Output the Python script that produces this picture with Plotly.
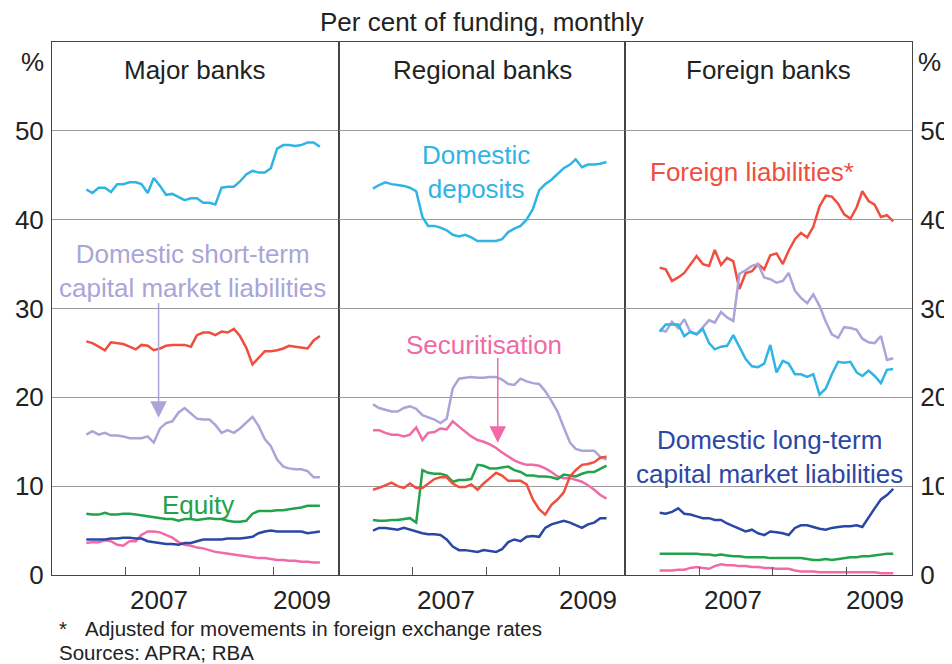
import pandas as pd
import plotly.graph_objs as go

# monthly observations, Jun 2006 - Aug 2009
months = pd.date_range("2006-06-01", periods=39, freq="MS") + pd.DateOffset(days=19)
months = [d.strftime("%Y-%m-%d") for d in months]

panels = ["Major banks", "Regional banks", "Foreign banks"]
year_labels = ["2007", "2009"]

# Major banks (per cent of funding)
dep_major = [43.4, 43.0, 43.6, 43.6, 43.1, 44.0, 44.0, 44.2, 44.2, 44.0, 43.0, 44.7, 43.8, 42.8, 42.9, 42.5, 42.2, 42.4, 42.4, 41.9,
             41.9, 41.7, 43.6, 43.7, 43.7, 44.3, 45.1, 45.5, 45.3, 45.3, 45.8, 48.0, 48.4, 48.4, 48.3, 48.4, 48.7, 48.7, 48.2]
for_major = [26.3, 26.1, 25.7, 25.3, 26.2, 26.1, 26.0, 25.7, 25.4, 25.9, 25.8, 25.3, 25.5, 25.8, 25.9, 25.9, 25.9, 25.7, 27.0, 27.3,
             27.3, 27.0, 27.4, 27.3, 27.7, 26.9, 25.6, 23.7, 24.5, 25.2, 25.2, 25.3, 25.5, 25.8, 25.7, 25.6, 25.5, 26.4, 26.9]
st_major = [15.8, 16.2, 15.8, 16.0, 15.7, 15.7, 15.6, 15.4, 15.4, 15.4, 15.6, 14.9, 16.5, 17.1, 17.3, 18.3, 18.8, 18.2, 17.6, 17.5,
            17.5, 16.9, 16.0, 16.3, 16.0, 16.5, 17.2, 17.8, 16.8, 15.3, 14.5, 13.0, 12.2, 12.0, 11.9, 11.9, 11.7, 11.0, 11.0]
eq_major = [6.9, 6.8, 6.8, 7.0, 6.8, 6.8, 6.9, 6.9, 6.8, 6.7, 6.6, 6.5, 6.4, 6.3, 6.3, 6.1, 6.3, 6.3, 6.2, 6.3,
            6.4, 6.3, 6.3, 6.1, 6.0, 6.0, 6.1, 6.9, 7.2, 7.2, 7.2, 7.3, 7.3, 7.4, 7.5, 7.6, 7.8, 7.8, 7.8]
lt_major = [4.0, 4.0, 4.0, 4.0, 4.1, 4.1, 4.2, 4.2, 4.1, 4.1, 3.8, 3.7, 3.6, 3.5, 3.5, 3.4, 3.6, 3.6, 3.8, 4.0,
            4.0, 4.0, 4.0, 4.1, 4.1, 4.1, 4.2, 4.3, 4.7, 4.9, 5.0, 4.9, 4.9, 4.9, 4.9, 4.9, 4.7, 4.8, 4.9]
sec_major = [3.6, 3.7, 3.7, 3.9, 3.8, 3.4, 3.3, 3.8, 3.8, 4.5, 4.9, 4.9, 4.8, 4.5, 4.2, 3.7, 3.4, 3.3, 3.1, 3.0,
             2.8, 2.6, 2.5, 2.4, 2.3, 2.2, 2.1, 2.0, 1.9, 1.9, 1.8, 1.7, 1.7, 1.6, 1.6, 1.5, 1.5, 1.4, 1.4]

# Regional banks
dep_reg = [43.5, 43.9, 44.2, 44.0, 43.9, 43.8, 43.6, 43.2, 40.3, 39.3, 39.3, 39.1, 38.8, 38.3, 38.1, 38.3, 38.0, 37.6, 37.6, 37.6,
           37.6, 37.8, 38.6, 39.0, 39.3, 40.0, 41.2, 43.3, 44.0, 44.5, 45.1, 45.8, 46.2, 46.8, 45.9, 46.2, 46.2, 46.3, 46.5]
st_reg = [19.2, 18.8, 18.6, 18.4, 18.4, 18.8, 19.0, 18.7, 18.0, 17.8, 17.5, 17.1, 17.6, 21.0, 22.1, 22.2, 22.3, 22.2, 22.2, 22.3,
          22.3, 22.0, 21.5, 21.4, 22.1, 21.8, 21.6, 21.5, 20.7, 19.6, 18.4, 16.6, 14.9, 14.2, 14.0, 14.0, 14.0, 13.3, 13.0]
sec_reg = [16.3, 16.3, 16.0, 15.8, 15.8, 15.6, 15.8, 16.6, 15.2, 16.0, 16.1, 16.5, 16.4, 17.3, 16.7, 16.1, 15.6, 15.2, 15.0, 14.7,
           14.3, 13.8, 13.3, 12.9, 12.6, 12.4, 12.4, 12.3, 12.0, 11.6, 11.1, 10.9, 10.9, 10.7, 10.5, 10.1, 9.6, 9.0, 8.6]
eq_reg = [6.2, 6.1, 6.1, 6.2, 6.2, 6.3, 6.4, 5.9, 11.8, 11.5, 11.4, 11.4, 11.2, 10.5, 10.7, 10.7, 10.8, 12.4, 12.3, 12.0,
          12.0, 12.1, 12.2, 11.8, 11.6, 11.2, 11.2, 11.1, 11.1, 11.0, 10.8, 11.3, 11.2, 11.1, 11.4, 11.6, 11.6, 11.9, 12.3]
for_reg = [9.6, 9.8, 10.1, 10.4, 10.0, 9.8, 10.3, 9.8, 9.8, 10.3, 10.8, 11.0, 11.0, 10.3, 9.9, 9.9, 10.2, 9.6, 10.3, 10.9,
           11.5, 11.2, 10.6, 10.6, 10.6, 10.2, 8.5, 7.4, 6.8, 7.9, 8.5, 9.3, 11.1, 11.8, 12.4, 12.5, 12.7, 13.2, 13.3]
lt_reg = [5.0, 5.3, 5.3, 5.2, 5.1, 5.3, 5.1, 4.9, 4.7, 4.6, 4.6, 4.5, 4.0, 3.2, 2.8, 2.8, 2.7, 2.6, 2.8, 2.7,
          2.6, 2.9, 3.7, 4.0, 3.8, 4.3, 4.4, 4.3, 5.3, 5.7, 5.9, 6.1, 5.9, 5.6, 5.3, 5.7, 5.9, 6.4, 6.4]

# Foreign banks
for_for = [34.6, 34.4, 33.1, 33.5, 34.0, 34.9, 35.9, 35.0, 34.8, 36.6, 34.9, 35.7, 35.3, 32.2, 34.0, 34.2, 35.0, 34.4, 36.0, 36.2,
           35.0, 36.5, 37.8, 38.5, 38.0, 39.2, 41.5, 42.7, 42.6, 41.8, 40.6, 40.1, 41.4, 43.2, 42.1, 41.7, 40.3, 40.5, 39.8]
st_for = [27.6, 27.4, 28.5, 27.8, 28.8, 27.3, 27.1, 27.9, 28.7, 28.4, 29.6, 29.0, 28.6, 33.9, 34.3, 34.8, 35.0, 33.5, 33.3, 32.9,
          33.1, 34.0, 32.0, 31.2, 30.6, 31.6, 30.3, 28.5, 27.1, 26.7, 27.9, 27.8, 27.6, 26.6, 26.2, 26.1, 26.9, 24.2, 24.4]
dep_for = [27.4, 28.2, 28.2, 28.2, 26.9, 27.4, 27.1, 27.7, 26.1, 25.4, 25.7, 25.8, 27.0, 25.6, 24.3, 23.5, 23.4, 23.8, 25.9, 22.8,
           24.1, 23.8, 22.6, 22.6, 22.3, 22.6, 20.3, 21.0, 22.6, 24.0, 23.9, 24.0, 22.8, 22.4, 23.0, 22.4, 21.6, 23.1, 23.2]
lt_for = [7.0, 6.9, 7.1, 7.5, 6.9, 6.8, 6.6, 6.4, 6.4, 6.2, 6.2, 5.8, 5.5, 5.2, 4.9, 5.1, 4.7, 4.5, 4.9, 4.8,
          4.7, 4.5, 5.3, 5.6, 5.6, 5.4, 5.2, 5.1, 5.3, 5.4, 5.5, 5.5, 5.6, 5.4, 6.5, 7.5, 8.5, 9.0, 9.7]
eq_for = [2.4, 2.4, 2.4, 2.4, 2.4, 2.4, 2.4, 2.3, 2.3, 2.2, 2.3, 2.2, 2.1, 2.1, 2.0, 2.0, 2.0, 2.0, 1.9, 1.9,
          1.9, 1.9, 1.9, 1.9, 1.8, 1.7, 1.7, 1.8, 1.7, 1.8, 1.9, 2.0, 2.0, 2.1, 2.1, 2.2, 2.3, 2.4, 2.4]
sec_for = [0.5, 0.5, 0.5, 0.6, 0.6, 0.8, 0.9, 0.8, 0.7, 1.0, 1.2, 1.1, 1.1, 1.0, 1.0, 0.9, 0.9, 0.8, 0.8, 0.7,
           0.7, 0.7, 0.5, 0.4, 0.4, 0.4, 0.3, 0.3, 0.3, 0.3, 0.3, 0.3, 0.3, 0.3, 0.3, 0.3, 0.2, 0.2, 0.2]

c_dep = "#2fb4e6"
c_for = "#f04e3e"
c_st = "#a9a5d8"
c_sec = "#f06aa6"
c_eq = "#22a24a"
c_lt = "#2b47a6"

FONT = "Arial, Liberation Sans, sans-serif"
TXT = 26
NOTE = 20.5

series = [
    ("x", "y", [(dep_major, c_dep), (for_major, c_for), (st_major, c_st),
                (eq_major, c_eq), (sec_major, c_sec), (lt_major, c_lt)]),
    ("x2", "y2", [(dep_reg, c_dep), (st_reg, c_st), (sec_reg, c_sec),
                  (eq_reg, c_eq), (for_reg, c_for), (lt_reg, c_lt)]),
    ("x3", "y3", [(for_for, c_for), (st_for, c_st), (dep_for, c_dep),
                  (lt_for, c_lt), (eq_for, c_eq), (sec_for, c_sec)]),
]

fig = go.Figure()
for xa, ya, lines in series:
    for vals, col in lines:
        fig.add_trace(go.Scatter(x=months, y=vals, xaxis=xa, yaxis=ya, mode="lines",
                                 line=dict(color=col, width=2.5), showlegend=False, hoverinfo="skip"))

xax = dict(type="date", range=["2006-01-01", "2009-11-21"], automargin=False,
           tickvals=["2007-01-01", "2008-01-01", "2009-01-01"], ticks="inside", ticklen=8,
           tickcolor="#555", tickwidth=1, showticklabels=False, showgrid=False, zeroline=False,
           showline=True, linecolor="#444", linewidth=1, mirror=True)
yax = dict(range=[0, 60], tickvals=[0, 10, 20, 30, 40, 50], showgrid=True, gridcolor="#9a9a9a",
           gridwidth=1, zeroline=False, showline=True, linecolor="#444", linewidth=1, mirror=True,
           automargin=False, ticks="", ticklabelstandoff=2,
           tickfont=dict(family=FONT, size=TXT, color="#222"))

# page body adds an 8px offset, so the figure is sized to fit inside the window
fig.update_layout(
    width=944, height=656,
    margin=dict(l=44, r=40, t=34, b=89, autoexpand=False),
    paper_bgcolor="white", plot_bgcolor="white",
    font=dict(family=FONT, size=TXT, color="#222"),
    xaxis=dict(xax, domain=[0, 1 / 3], anchor="y"),
    xaxis2=dict(xax, domain=[1 / 3, 2 / 3], anchor="y2"),
    xaxis3=dict(xax, domain=[2 / 3, 1], anchor="y3"),
    yaxis=dict(yax, anchor="x", side="left"),
    yaxis2=dict(yax, anchor="x2", showticklabels=False),
    yaxis3=dict(yax, anchor="x3", side="right"),
)

ann = []
# title, unit labels, panel headings
ann.append(dict(text="Per cent of funding, monthly", xref="paper", yref="paper", x=0.5, y=1.0375,
                xanchor="center", yanchor="middle", showarrow=False))
for xp in [-0.023, 1.0198]:
    ann.append(dict(text="%", xref="paper", yref="paper", x=xp, y=0.962,
                    xanchor="center", yanchor="middle", showarrow=False))
for i, name in enumerate(panels):
    ann.append(dict(text=name, xref="paper", yref="paper", x=(2 * i + 1) / 6, y=0.948,
                    xanchor="center", yanchor="middle", showarrow=False))

# year labels under each panel
for xa in ["x", "x2", "x3"]:
    for lab, xd in zip(year_labels, ["2007-06-17", "2009-05-22"]):
        ann.append(dict(text=lab, xref=xa, yref="paper", x=xd, y=-0.047,
                        xanchor="center", yanchor="middle", showarrow=False))

# series labels
ann.append(dict(text="Domestic short-term<br>capital market liabilities", xref="x", yref="y",
                x="2007-11-28", y=34.2, showarrow=False, font=dict(color=c_st)))
ann.append(dict(text="", xref="x", yref="y", x="2007-06-13", y=17.7, axref="x", ayref="y",
                ax="2007-06-13", ay=30.8, showarrow=True, arrowhead=2, arrowsize=2.2,
                arrowwidth=1.5, arrowcolor=c_st, standoff=0))
ann.append(dict(text="Equity", xref="x", yref="y", x="2007-12-24", y=7.9,
                showarrow=False, font=dict(color=c_eq)))
ann.append(dict(text="Domestic<br>deposits", xref="x2", yref="y2", x="2007-11-10", y=45.4,
                showarrow=False, font=dict(color=c_dep)))
ann.append(dict(text="Securitisation", xref="x2", yref="y2", x="2007-12-20", y=25.9,
                showarrow=False, font=dict(color=c_sec)))
ann.append(dict(text="", xref="x2", yref="y2", x="2008-02-28", y=14.9, axref="x2", ayref="y2",
                ax="2008-02-28", ay=24.6, showarrow=True, arrowhead=2, arrowsize=2.2,
                arrowwidth=1.5, arrowcolor=c_sec, standoff=0))
ann.append(dict(text="Foreign liabilities*", xref="x3", yref="y3", x="2007-09-20", y=45.4,
                showarrow=False, font=dict(color=c_for)))
ann.append(dict(text="Domestic long-term<br>capital market liabilities", xref="x3", yref="y3",
                x="2007-12-16", y=13.25, showarrow=False, font=dict(color=c_lt)))

# footnotes
ann.append(dict(text="*", xref="paper", yref="paper", x=0.0058, y=-0.1013, xanchor="left",
                yanchor="middle", showarrow=False, font=dict(size=NOTE)))
ann.append(dict(text="Adjusted for movements in foreign exchange rates", xref="paper", yref="paper",
                x=0.0357, y=-0.1013, xanchor="left", yanchor="middle", showarrow=False,
                font=dict(size=NOTE)))
ann.append(dict(text="Sources: APRA; RBA", xref="paper", yref="paper", x=0.0055, y=-0.1463,
                xanchor="left", yanchor="middle", showarrow=False, font=dict(size=NOTE)))

fig.update_layout(annotations=ann)

fig.write_html("out.html")
